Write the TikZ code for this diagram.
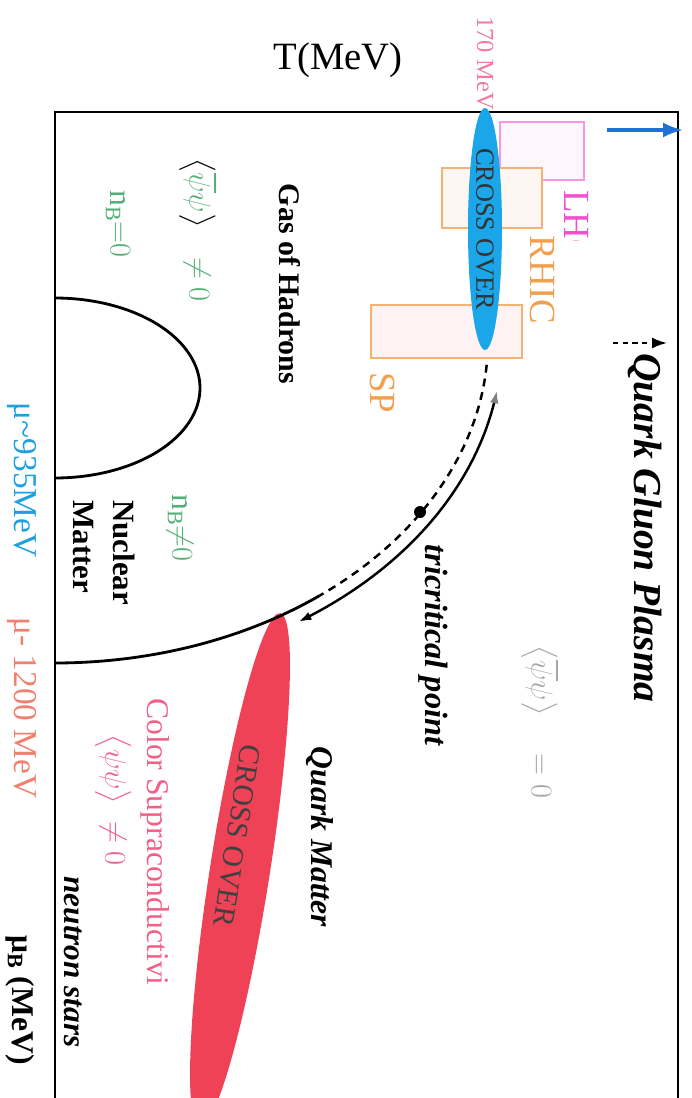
\documentclass[tikz,border=0pt]{standalone}
\usepackage{amsmath}
\usepackage{fontspec}
\setmainfont{Liberation Serif}
\usetikzlibrary{shapes.geometric,arrows.meta}
\definecolor{qgpblue}{HTML}{1BA6EA}
\definecolor{cored}{HTML}{F04257}
\definecolor{lhcpink}{HTML}{F050D0}
\definecolor{rhicorange}{HTML}{F0A050}
\definecolor{chgreen}{HTML}{55AE78}
\definecolor{cspink}{HTML}{F06088}
\definecolor{tcpink}{HTML}{F07CA0}
\definecolor{mublue}{HTML}{1CA0E0}
\definecolor{musalmon}{HTML}{F08070}
\definecolor{arrowblue}{HTML}{2070D8}

\begin{document}
\begin{tikzpicture}[x=0.02cm,y=-0.02cm,
  vlabel/.style={rotate=-90,inner sep=0pt},
  blob/.style={ellipse,inner sep=0pt},
  phase/.style={line width=1.6pt}]
\clip (0,0) rectangle (691,1098);
% accelerator windows
\draw[lhcpink!60,fill=lhcpink!5,line width=0.8pt] (500,122) rectangle (584,180);
\draw[rhicorange!80,fill=rhicorange!8,line width=0.8pt] (442,168) rectangle (542,228);
\draw[rhicorange!80,fill=cspink!8,line width=0.8pt] (371,305) rectangle (522,358);
\begin{scope}
  \clip (540,150) rectangle (620,240);
  \node[vlabel,anchor=west,text=lhcpink,font=\fontsize{21}{24}\selectfont] (lhc) at (577,190) {LHC};
\end{scope}
\node[vlabel,text=rhicorange,font=\fontsize{21}{24}\selectfont] (rhic) at (543,280) {RHIC};
\node[vlabel,anchor=west,text=rhicorange,font=\fontsize{21}{24}\selectfont] (sp) at (383,372) {SP};

% axes frame
\draw[phase] (55,1098) -- (55,112) -- (678,112) -- (678,1098);
\node[font=\fontsize{22}{26}\selectfont] (taxis) at (338,60) {T(MeV)};
\node[vlabel,text=tcpink,font=\fontsize{14}{16}\selectfont] (tc) at (485,63) {170 MeV};
\draw[arrowblue,line width=1.8pt,-{Latex[length=0.4cm,width=0.3cm]}] (607,130) -- (683,130);

% crossover at small mu
\node[blob,fill=qgpblue,minimum width=4.84cm,minimum height=0.68cm,rotate=-90] (xblue) at (485,229) {};
\node[vlabel,text=black!80,font=\fontsize{15}{17}\selectfont] (xbluetxt) at (xblue.center) {CROSS OVER};

% crossover at large mu
\node[blob,fill=cored,minimum width=10.4cm,minimum height=1.2cm,rotate=-98.9] (xred) at (240,870) {};
\node[rotate=-98.9,inner sep=0pt,text=black!75,font=\fontsize{17}{19}\selectfont] (xredtxt) at (237,836) {CROSS OVER};

% nuclear matter
\draw[phase] plot[domain=-90:90,samples=60,smooth] ({55+145*cos(\x)},{388+90*sin(\x)});

% phase boundary
\draw[line width=1.4pt,dash pattern=on 4.5pt off 3.4pt] plot[domain=4.4:52.3,samples=40,smooth] ({55+433*cos(\x)},{340+323*sin(\x)});
\draw[phase] plot[domain=52.3:90,samples=40,smooth] ({55+433*cos(\x)},{340+323*sin(\x)});
\draw[line width=1.4pt,{Latex[length=0.26cm,width=0.17cm,gray]}-{Latex[length=0.26cm,width=0.17cm]}]
  plot[domain=8.6:57,samples=40,smooth] ({55+447*cos(\x)},{340+336*sin(\x)});
\node[circle,fill,inner sep=0pt,minimum size=0.24cm] (tcp) at (420,512) {};

% region labels
\draw[line width=1.2pt,dash pattern=on 3pt off 2.5pt,-{Latex[length=0.3cm,width=0.22cm]}] (613,343) -- (667,343);
\node[vlabel,font=\bfseries\itshape\fontsize{22.5}{26}\selectfont] (qgp) at (645,528) {Quark Gluon Plasma};
\node[vlabel,text=gray!70,font=\fontsize{17}{20}\selectfont] (chiralq) at (540,722) {$\bigl\langle\overline{\psi}\psi\bigr\rangle\quad=0$};
\node[vlabel,font=\bfseries\itshape\fontsize{18.4}{21}\selectfont] (tcplabel) at (433,645) {tricritical point};
\node[vlabel,font=\bfseries\fontsize{17}{20}\selectfont] (hadrons) at (290,284) {Gas of Hadrons};
\node[vlabel,font=\fontsize{17}{20}\selectfont] (chiralh) at (198,230) {$\bigl\langle\textcolor{chgreen}{\overline{\psi}\psi}\bigr\rangle\quad\textcolor{chgreen}{\neq 0}$};
\node[vlabel,text=chgreen,font=\fontsize{18}{20}\selectfont] (nbzero) at (118,224) {$\mathrm{n}_{\mathrm{B}}{=}0$};
\node[vlabel,text=chgreen,font=\fontsize{18}{20}\selectfont] (nbnonzero) at (180,528) {$\mathrm{n}_{\mathrm{B}}{\neq}0$};
\node[vlabel,anchor=west,align=left,font=\bfseries\fontsize{17.6}{22.8}\selectfont] (nuclear) at (104,500) {Nuclear\\Matter};
\node[vlabel,font=\bfseries\itshape\fontsize{18}{21}\selectfont] (qmatter) at (320,837) {Quark Matter};
\node[vlabel,text=cspink,font=\fontsize{18}{20}\selectfont] (csc) at (155,842) {Color Supraconductivi};
\node[vlabel,text=cspink,font=\fontsize{17}{20}\selectfont] (diquark) at (113,800) {$\bigl\langle\psi\psi\bigr\rangle\;\neq 0$};
\node[vlabel,font=\bfseries\itshape\fontsize{17.8}{20}\selectfont] (nstars) at (73,962) {neutron stars};

% mu axis
\node[vlabel,text=mublue,font=\fontsize{19}{22}\selectfont] (mu935) at (22,480) {μ\textasciitilde935MeV};
\node[vlabel,text=musalmon,font=\fontsize{19}{22}\selectfont] (mu1200) at (22,708) {μ- 1200 MeV};
\node[vlabel,font=\bfseries\fontsize{18}{21}\selectfont] (muaxis) at (20,1000) {μ\textsubscript{B} (MeV)};
\end{tikzpicture}
\end{document}
